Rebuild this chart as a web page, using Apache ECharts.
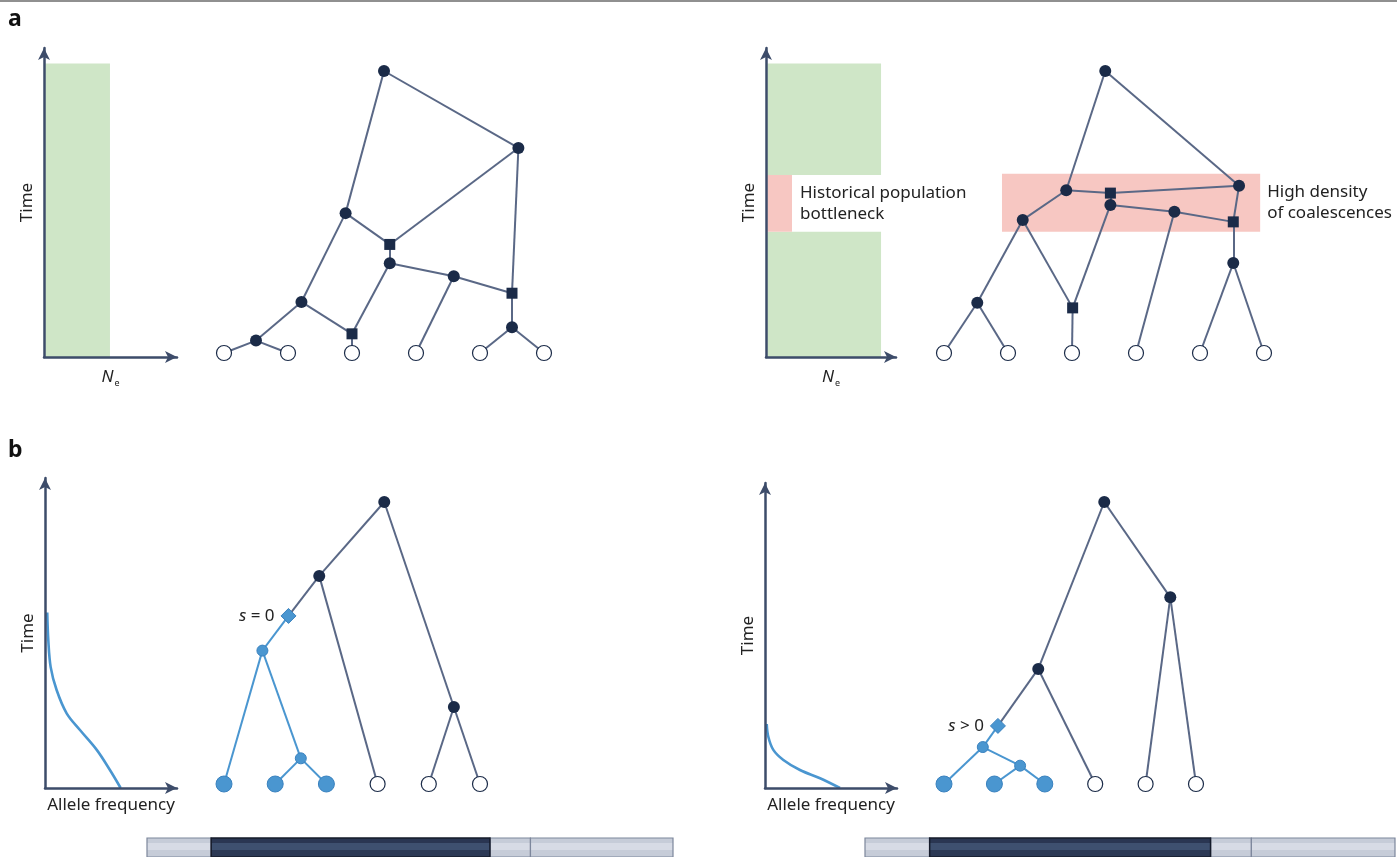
<!DOCTYPE html>
<html>
<head>
<meta charset="utf-8">
<title>Coalescent trees, bottleneck and selection</title>
<script src="https://cdn.jsdelivr.net/npm/echarts@6.0.0/dist/echarts.min.js"></script>
<style>
  html, body { margin: 0; padding: 0; background: #fff; }
  #chart { width: 1397px; height: 857px; }
</style>
</head>
<body>
<div id="chart"></div>
<script>
// ---------- data ----------
// effective population size through time: [time start, time end, Ne]
const neConstant = [[0, 0.95, 0.496]]
const neBottleneck = [[0, 0.405, 0.885], [0.405, 0.589, 0.2], [0.589, 0.95, 0.885]]

// ancestral recombination graphs: [name, lineage position, time, kind]
// kind: c = coalescence, r = recombination, l = sample, m = mutation, b = carrier node, bl = carrier sample
const leaves = [['s0', 0, 0, 'l'], ['s1', 1, 0, 'l'], ['s2', 2, 0, 'l'], ['s3', 3, 0, 'l'], ['s4', 4, 0, 'l'], ['s5', 5, 0, 'l']]

const argConstNodes = [
  ['root', 2.5, 10, 'c'], ['n1', 4.6, 7.27, 'c'], ['n2', 1.9, 4.96, 'c'],
  ['r1', 2.59, 3.85, 'r'], ['n3', 2.59, 3.18, 'c'], ['n4', 3.59, 2.72, 'c'],
  ['r2', 4.5, 2.12, 'r'], ['n5', 4.5, 0.91, 'c'], ['n6', 1.21, 1.81, 'c'],
  ['r3', 2.0, 0.68, 'r'], ['n7', 0.5, 0.44, 'c']
].concat(leaves)
const argConstEdges = [
  ['root', 'n2'], ['root', 'n1'], ['n2', 'n6'], ['n2', 'r1'], ['n1', 'r1'], ['r1', 'n3'],
  ['n3', 'r3'], ['n3', 'n4'], ['n4', 's3'], ['n4', 'r2'], ['n1', 'r2'], ['r2', 'n5'],
  ['n5', 's4'], ['n5', 's5'], ['n6', 'n7'], ['n6', 'r3'], ['r3', 's2'], ['n7', 's0'], ['n7', 's1']
]

const argBottleNodes = [
  ['root', 2.52, 10, 'c'], ['n1', 4.61, 5.93, 'c'], ['n2', 1.91, 5.77, 'c'],
  ['r1', 2.6, 5.67, 'r'], ['n3', 2.6, 5.25, 'c'], ['n4', 3.6, 5.01, 'c'],
  ['r2', 4.52, 4.65, 'r'], ['n5', 1.23, 4.72, 'c'], ['n6', 4.52, 3.19, 'c'],
  ['n7', 0.52, 1.78, 'c'], ['r3', 2.01, 1.6, 'r']
].concat(leaves)
const argBottleEdges = [
  ['root', 'n2'], ['root', 'n1'], ['n2', 'r1'], ['r1', 'n1'], ['n2', 'n5'], ['n5', 'n7'],
  ['n5', 'r3'], ['n7', 's0'], ['n7', 's1'], ['r3', 's2'], ['r3', 'n3'], ['n3', 'r1'],
  ['n3', 'n4'], ['n4', 's3'], ['n4', 'r2'], ['n1', 'r2'], ['r2', 'n6'], ['n6', 's4'], ['n6', 's5']
]
// window of dense coalescences: [pos start, pos end, time start, time end]
const densityBand = [[0.906, 4.94, 4.3, 6.36]]

const treeNeutralNodes = [
  ['root', 3.13, 10, 'c'], ['n1', 1.86, 7.38, 'c'], ['mut', 1.26, 5.96, 'm'],
  ['b1', 0.75, 4.73, 'b'], ['b2', 1.5, 0.91, 'b'], ['n2', 4.49, 2.73, 'c'],
  ['s0', 0, 0, 'bl'], ['s1', 1, 0, 'bl'], ['s2', 2, 0, 'bl'], ['s3', 3, 0, 'l'], ['s4', 4, 0, 'l'], ['s5', 5, 0, 'l']
]
const treeNeutralEdges = [
  ['root', 'n1'], ['n1', 'mut'], ['mut', 'b1'], ['b1', 's0'], ['b1', 'b2'], ['b2', 's1'], ['b2', 's2'],
  ['n1', 's3'], ['root', 'n2'], ['n2', 's4'], ['n2', 's5']
]

const treeSelectedNodes = [
  ['root', 3.18, 10, 'c'], ['n2', 4.49, 6.62, 'c'], ['n1', 1.87, 4.08, 'c'], ['mut', 1.07, 2.06, 'm'],
  ['b1', 0.77, 1.31, 'b'], ['b2', 1.51, 0.65, 'b'],
  ['s0', 0, 0, 'bl'], ['s1', 1, 0, 'bl'], ['s2', 2, 0, 'bl'], ['s3', 3, 0, 'l'], ['s4', 4, 0, 'l'], ['s5', 5, 0, 'l']
]
const treeSelectedEdges = [
  ['root', 'n1'], ['root', 'n2'], ['n2', 's4'], ['n2', 's5'], ['n1', 's3'], ['n1', 'mut'],
  ['mut', 'b1'], ['b1', 's0'], ['b1', 'b2'], ['b2', 's1'], ['b2', 's2']
]

// allele frequency trajectories: [frequency, time]
const freqNeutral = [[0.017, 0.566], [0.025, 0.477], [0.043, 0.39], [0.088, 0.316], [0.164, 0.241],
  [0.265, 0.187], [0.392, 0.123], [0.492, 0.058], [0.573, 0]]
const freqSelected = [[0.013, 0.21], [0.025, 0.168], [0.063, 0.125], [0.139, 0.092], [0.265, 0.059],
  [0.417, 0.032], [0.568, 0]]

// genome segments (fraction of sequence), the tree shown belongs to segment 1
const genomeBreaks = [0, 0.122, 0.652, 0.729, 1]
const focalSegment = 1

// ---------- style ----------
const FONT = '"Noto Sans", "Open Sans", sans-serif'
const FS = 17
const AXIS = '#3d4c6a'
const NODE = '#1b2b48'
const EDGE = '#5a6886'
const BLUE = '#4a96d0'
const BLUE_DARK = '#3a82bf'
const GREEN = '#cfe6c7'
const PINK = '#f7c7c2'

const nodeStyle = {
  c: { symbol: 'circle', symbolSize: 12, itemStyle: { color: NODE } },
  r: { symbol: 'rect', symbolSize: 11, itemStyle: { color: NODE } },
  l: { symbol: 'circle', symbolSize: 15, itemStyle: { color: '#fff', borderColor: NODE, borderWidth: 1.2 } },
  m: { symbol: 'diamond', symbolSize: 15, itemStyle: { color: BLUE, borderColor: BLUE_DARK, borderWidth: 1 } },
  b: { symbol: 'circle', symbolSize: 11, itemStyle: { color: BLUE, borderColor: BLUE_DARK, borderWidth: 1 } },
  bl: { symbol: 'circle', symbolSize: 16, itemStyle: { color: BLUE, borderColor: BLUE_DARK, borderWidth: 1 } }
}

// grids: [left, top, width, height]
const grids = [
  [44, 48, 133, 309], // 0 a: Ne constant
  [224, 71, 320, 282], // 1 a: ARG
  [766, 48, 130, 309], // 2 a: Ne bottleneck
  [944, 71, 320, 282], // 3 a: ARG bottleneck
  [45, 478, 132, 310], // 4 b: freq neutral
  [224, 502, 256, 282], // 5 b: tree neutral
  [765, 483, 132, 305], // 6 b: freq selected
  [944, 502, 252, 282], // 7 b: tree selected
  [147, 838, 526, 26], // 8 b: genome
  [865, 838, 530, 26] // 9 b: genome
]

const plotGrid = [0, 2, 4, 6]
const treeGrid = [1, 3, 5, 7]

function axisText() {
  return { fontSize: FS, color: '#222', fontFamily: FONT }
}

const neName = '{n|N}{e|e}'
const neRich = {
  n: { fontStyle: 'italic', fontSize: 17, color: '#222', fontFamily: FONT },
  e: { fontSize: 9, color: '#222', fontFamily: FONT, padding: [13, 0, 0, 1] }
}

const xAxes = grids.map((g, i) => {
  if (plotGrid.indexOf(i) >= 0) {
    const isNe = i < 4
    return {
      type: 'value', gridIndex: i, min: 0, max: 1, z: 5,
      axisLine: { show: true, symbol: ['none', 'arrow'], symbolSize: [9, 12], lineStyle: { color: AXIS, width: 2.5 } },
      axisTick: { show: false }, axisLabel: { show: false }, splitLine: { show: false },
      name: isNe ? neName : 'Allele frequency',
      nameLocation: 'middle',
      nameGap: isNe ? 9 : 9,
      nameTextStyle: isNe ? { rich: neRich } : axisText()
    }
  }
  return { type: 'value', gridIndex: i, min: 0, max: treeGrid.indexOf(i) >= 0 ? 5 : 1, show: false }
})

const yAxes = grids.map((g, i) => {
  if (plotGrid.indexOf(i) >= 0) {
    return {
      type: 'value', gridIndex: i, min: 0, max: 1, z: 5,
      axisLine: { show: true, symbol: ['none', 'arrow'], symbolSize: [9, 12], lineStyle: { color: AXIS, width: 2.5 } },
      axisTick: { show: false }, axisLabel: { show: false }, splitLine: { show: false },
      name: 'Time', nameLocation: 'middle', nameRotate: 90, nameGap: 8,
      nameTextStyle: axisText()
    }
  }
  return { type: 'value', gridIndex: i, min: 0, max: treeGrid.indexOf(i) >= 0 ? 10 : 1, show: false }
})

function neSeries(data, idx, note) {
  const maxNe = Math.max.apply(null, data.map(d => d[2]))
  return {
    type: 'custom', xAxisIndex: idx, yAxisIndex: idx, silent: true, z: 1,
    data: data,
    renderItem: function(params, api) {
      const p0 = api.coord([0, api.value(1)])
      const p1 = api.coord([api.value(2), api.value(0)])
      const narrow = api.value(2) < maxNe
      const children = [{
        type: 'rect',
        shape: { x: p0[0] + 1.3, y: p0[1], width: p1[0] - p0[0] - 1.3, height: p1[1] - p0[1] },
        style: { fill: narrow ? PINK : GREEN }
      }]
      if (narrow && note) {
        children.push({
          type: 'text', x: p1[0] + 8, y: (p0[1] + p1[1]) / 2,
          style: { text: note, fill: '#222', fontSize: FS, fontFamily: FONT, lineHeight: 21, verticalAlign: 'middle', align: 'left' }
        })
      }
      return { type: 'group', children: children }
    }
  }
}

function bandSeries(data, idx, note) {
  return {
    type: 'custom', xAxisIndex: idx, yAxisIndex: idx, silent: true, z: 1,
    data: data,
    renderItem: function(params, api) {
      const p0 = api.coord([api.value(0), api.value(3)])
      const p1 = api.coord([api.value(1), api.value(2)])
      return {
        type: 'group',
        children: [
          { type: 'rect', shape: { x: p0[0], y: p0[1], width: p1[0] - p0[0], height: p1[1] - p0[1] }, style: { fill: PINK } },
          {
            type: 'text', x: p1[0] + 7, y: (p0[1] + p1[1]) / 2,
            style: { text: note, fill: '#222', fontSize: FS, fontFamily: FONT, lineHeight: 21, verticalAlign: 'middle', align: 'left' }
          }
        ]
      }
    }
  }
}

function treeSeries(nodes, edges, idx, mutText) {
  const kindOf = {}
  nodes.forEach(n => { kindOf[n[0]] = n[3] })
  return {
    type: 'graph', coordinateSystem: 'cartesian2d', xAxisIndex: idx, yAxisIndex: idx,
    layout: 'none', silent: true, z: 3,
    emphasis: { disabled: true },
    lineStyle: { width: 2, opacity: 1, curveness: 0 },
    data: nodes.map(n => {
      const st = nodeStyle[n[3]]
      const item = {
        name: n[0], value: [n[1], n[2]],
        symbol: st.symbol, symbolSize: st.symbolSize, itemStyle: st.itemStyle,
        label: { show: false }
      }
      if (n[3] === 'm' && mutText) {
        item.label = {
          show: true, position: 'left', distance: 6, formatter: mutText,
          color: '#222', fontSize: FS, fontFamily: FONT,
          rich: { i: { fontStyle: 'italic', fontSize: FS, color: '#222', fontFamily: FONT } }
        }
      }
      return item
    }),
    links: edges.map(e => {
      const blue = kindOf[e[0]] === 'm' || kindOf[e[0]] === 'b'
      return { source: e[0], target: e[1], lineStyle: { color: blue ? BLUE : EDGE, width: 2, opacity: 1 } }
    })
  }
}

function freqSeries(data, idx) {
  return {
    type: 'line', xAxisIndex: idx, yAxisIndex: idx, data: data, smooth: 0.35,
    showSymbol: false, silent: true, z: 3,
    lineStyle: { color: BLUE, width: 2.6 }
  }
}

function genomeSeries(idx) {
  const segs = []
  for (let i = 0; i < genomeBreaks.length - 1; i++) {
    segs.push([genomeBreaks[i], genomeBreaks[i + 1], i === focalSegment ? 1 : 0])
  }
  return {
    type: 'custom', xAxisIndex: idx, yAxisIndex: idx, silent: true, data: segs,
    renderItem: function(params, api) {
      const p0 = api.coord([api.value(0), 1])
      const p1 = api.coord([api.value(1), 0])
      const focal = api.value(2) === 1
      const fill = focal
        ? new echarts.graphic.LinearGradient(0, 0, 0, 1, [
          { offset: 0, color: '#1f2940' }, { offset: 0.05, color: '#2a3652' }, { offset: 0.27, color: '#2a3652' },
          { offset: 0.28, color: '#3e506f' }, { offset: 0.62, color: '#3e506f' }, { offset: 0.64, color: '#2c3955' }, { offset: 1, color: '#2c3955' }])
        : new echarts.graphic.LinearGradient(0, 0, 0, 1, [
          { offset: 0, color: '#a7aebd' }, { offset: 0.05, color: '#c6ccd8' }, { offset: 0.27, color: '#c6ccd8' },
          { offset: 0.28, color: '#d7dbe5' }, { offset: 0.62, color: '#d7dbe5' }, { offset: 0.64, color: '#c6ccd8' }, { offset: 1, color: '#c6ccd8' }])
      return {
        type: 'rect',
        shape: { x: p0[0], y: p0[1], width: p1[0] - p0[0], height: p1[1] - p0[1] },
        style: { fill: fill, stroke: focal ? '#151b2a' : '#7d879c', lineWidth: focal ? 1.5 : 1.2 },
        z2: focal ? 2 : 1
      }
    }
  }
}

const chart = echarts.init(document.getElementById('chart'))

const option = {
  backgroundColor: '#fff',
  animation: false,
  grid: grids.map(g => ({ left: g[0], top: g[1], width: g[2], height: g[3] })),
  xAxis: xAxes,
  yAxis: yAxes,
  graphic: [
    { type: 'line', shape: { x1: 0, y1: 1, x2: 1397, y2: 1 }, style: { stroke: '#6b6b6b', lineWidth: 1.5 } },
    { type: 'text', left: 8, top: 8, style: { text: 'a', fontSize: 23, fontWeight: 'bold', fill: '#111', fontFamily: FONT } },
    { type: 'text', left: 8, top: 439, style: { text: 'b', fontSize: 23, fontWeight: 'bold', fill: '#111', fontFamily: FONT } }
  ],
  series: [
    neSeries(neConstant, 0),
    treeSeries(argConstNodes, argConstEdges, 1),
    neSeries(neBottleneck, 2, 'Historical population\nbottleneck'),
    bandSeries(densityBand, 3, 'High density\nof coalescences'),
    treeSeries(argBottleNodes, argBottleEdges, 3),
    freqSeries(freqNeutral, 4),
    treeSeries(treeNeutralNodes, treeNeutralEdges, 5, '{i|s} = 0'),
    freqSeries(freqSelected, 6),
    treeSeries(treeSelectedNodes, treeSelectedEdges, 7, '{i|s} > 0'),
    genomeSeries(8),
    genomeSeries(9)
  ]
}

chart.setOption(option)
</script>
</body>
</html>
